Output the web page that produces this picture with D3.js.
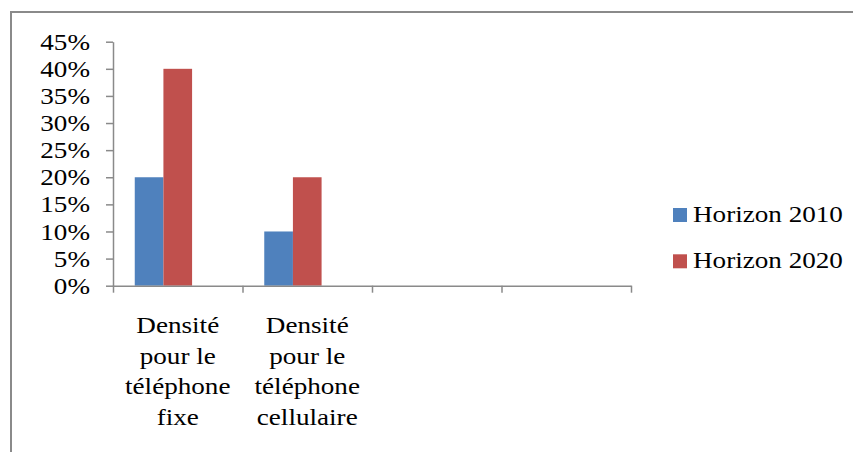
<!DOCTYPE html>
<html><head><meta charset="utf-8">
<script src="https://cdn.jsdelivr.net/npm/d3@7"></script>
<style>
body{margin:0;background:#fff}
text{font-family:"Liberation Serif","Times New Roman",serif;fill:#000}
</style></head>
<body><svg id="c" width="853" height="452"></svg>
<script>
const categories = ["Densité pour le téléphone fixe", "Densité pour le téléphone cellulaire", "cat3", "cat4"];
const categoryLines = [["Densité","pour le","téléphone","fixe"],["Densité","pour le","téléphone","cellulaire"],[],[]];
const seriesNames = ["Horizon 2010", "Horizon 2020"];
const values2010 = [0.20, 0.10, null, null];
const values2020 = [0.40, 0.20, null, null];
const slots = ["Horizon 2010", "Horizon 2020", "empty"]; // Excel keeps a third (empty) slot
const yTickValues = [0, 0.05, 0.10, 0.15, 0.20, 0.25, 0.30, 0.35, 0.40, 0.45];
const colors = ["#4F81BD", "#C0504D"];

const FS = 23, SX = 1.18;
const svg = d3.select("#c");

// outer border
svg.append("rect").attr("x", 11).attr("y", 12).attr("width", 900).attr("height", 500)
  .attr("fill", "none").attr("stroke", "#8a8a8a").attr("stroke-width", 2);

const x0 = d3.scaleBand().domain(categories).range([113, 631]).paddingInner(0.336).paddingOuter(0.168);
const x1 = d3.scaleBand().domain(slots).range([0, x0.bandwidth()]);
const y = d3.scaleLinear().domain([0, 0.45]).range([285.7, 41.7]);

const data = categories.map((c, i) => ({cat: c, vals: [values2010[i], values2020[i]]}));

// bars
const g = svg.append("g");
data.forEach(d => {
  d.vals.forEach((v, j) => {
    if (v == null) return;
    g.append("rect")
      .attr("x", x0(d.cat) + x1(slots[j]))
      .attr("y", y(v))
      .attr("width", x1.bandwidth())
      .attr("height", y(0) - y(v))
      .attr("fill", colors[j]);
  });
});

// y axis
const yAxis = svg.append("g").attr("transform", "translate(113,0)")
  .call(d3.axisLeft(y).tickValues(yTickValues).tickSize(7).tickSizeOuter(0).tickFormat(d3.format(".0%")));
yAxis.select(".domain").attr("stroke", "#8a8a8a").attr("stroke-width", 1.5);
yAxis.selectAll(".tick line").attr("stroke", "#8a8a8a").attr("stroke-width", 1.5);
yAxis.selectAll(".tick text").attr("font-size", FS).attr("font-family", "Liberation Serif")
  .attr("x", -23 / SX).attr("dy", "0.33em").attr("transform", `scale(${SX},1)`).attr("fill", "#000");

// x axis with ticks at category boundaries
const xb = d3.scaleLinear().domain([0, categories.length]).range([113, 631]);
const xAxis = svg.append("g").attr("transform", `translate(0,${y(0)})`)
  .call(d3.axisBottom(xb).tickValues(d3.range(categories.length + 1)).tickSize(7).tickSizeOuter(0).tickFormat(""));
xAxis.select(".domain").attr("stroke", "#8a8a8a").attr("stroke-width", 1.5);
xAxis.selectAll(".tick line").attr("stroke", "#8a8a8a").attr("stroke-width", 1.5);

// category labels
categories.forEach((c, i) => {
  const cx = x0(c) + x0.bandwidth() / 2;
  const t = svg.append("text").attr("font-size", FS).attr("text-anchor", "middle")
    .attr("transform", `translate(${cx},0) scale(${SX},1)`);
  categoryLines[i].forEach((ln, k) => {
    t.append("tspan").attr("x", 0).attr("y", 333 + k * 30.7).text(ln);
  });
});

// legend
seriesNames.forEach((s, j) => {
  const ly = 222 + j * 46.3;
  svg.append("rect").attr("x", 673).attr("y", ly - 14).attr("width", 14).attr("height", 14).attr("fill", colors[j]);
  svg.append("text").attr("font-size", FS).attr("transform", `translate(693,${ly}) scale(${SX},1)`).text(s);
});
</script></body></html>
